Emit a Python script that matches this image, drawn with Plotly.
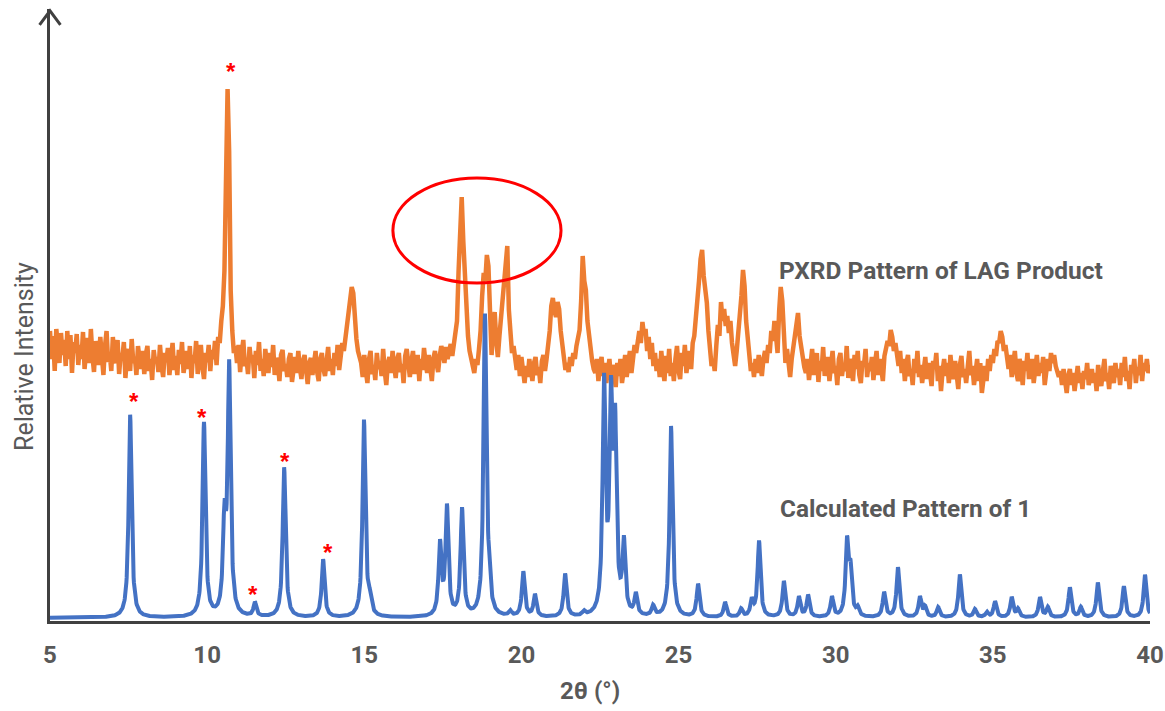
import numpy as np
import plotly.graph_objects as go

# ---------------- data ----------------
# Calculated pattern of 1: reflection positions (2theta, deg) and intensities (arb.)
calc_pos = [7.55, 9.90, 10.55, 10.70, 11.52, 12.45, 13.69, 14.99, 15.18, 17.41, 17.63, 18.11,
            18.84, 18.97, 19.64, 20.06, 20.43, 21.39, 21.99, 22.63, 22.85, 22.98, 23.26, 23.64,
            24.19, 24.76, 25.62, 26.48, 26.99, 27.33, 27.56, 28.35, 28.83, 29.12, 29.88, 30.36,
            30.47, 30.70, 31.54, 31.98, 32.68, 32.84, 33.26, 33.95, 34.43, 34.81, 35.07, 35.60,
            35.80, 36.50, 36.75, 37.45, 37.80, 38.34, 39.17, 39.84]
calc_int = [203, 194, 88, 247, 14, 150, 58, 197, 13, 71, 108, 107,
            300, 20, 5, 45, 22, 43, 4, 228, 201, 176, 70, 21,
            10, 191, 33, 15, 8, 16, 76, 36, 20, 22, 20, 73,
            43, 8, 25, 50, 20, 10, 10, 43, 8, 5, 16, 20,
            8, 20, 10, 30, 10, 35, 31, 43]
calc_base = 3
calc_hwhm = 0.055

# PXRD pattern of LAG product, read at 0.05 deg steps (segment start, values)
step = 0.05
lag_segments = [
    (5.00, [290, 262, 285, 250, 292, 270, 258, 288, 266, 281, 255, 290, 262, 286, 248, 279, 268, 287, 256, 276,
            262, 289, 252, 270, 283, 258, 292, 265, 249, 280, 268, 256, 284, 260, 246, 275, 290, 259, 268, 250,
            284, 262, 258, 281, 247, 268, 262, 279, 243, 266, 272, 250, 282, 258, 264, 246, 275, 262, 252, 270,
            247, 267, 275, 250, 262, 241, 271, 258, 264, 249, 276, 255, 244, 268, 259, 273, 246, 262, 278, 251,
            265, 246, 271, 257, 279, 248, 262, 270, 252, 275, 243, 266, 258, 280, 247, 264, 276, 254, 242, 268,
            259, 276, 250, 271, 262, 280, 256, 284, 278]),
    (10.45, [300, 315, 350, 440, 532, 470, 330, 290, 268, 275]),
    (10.95, [258, 276, 249, 268, 281, 255, 263, 247, 274, 259, 266,
             243, 270, 256, 279, 250, 262, 245, 272, 258, 248,
             268, 254, 276, 246, 263, 258, 240, 266, 271, 250, 257, 244, 262, 268, 239, 255, 264, 248, 270, 253,
             242, 260, 266, 251, 237, 258, 263, 246, 255, 270, 249, 240, 262, 268, 252, 245, 259, 274, 250, 262,
             246, 268, 255, 276, 251, 262, 278, 270, 283, 290]),
    (14.50, [300, 316, 334, 328, 300, 282, 270, 262]),
    (14.90, [258, 244, 266, 250, 238, 262, 270, 247, 256, 241, 268, 252,
             260, 245, 272, 250, 236, 258, 264, 248, 270, 255,
             243, 262, 268, 249, 257, 238, 265, 272, 251, 244, 260, 270, 247, 256, 266, 240, 262, 251, 273, 258,
             248, 266, 254, 240, 263, 270, 257, 249, 265, 275,
             268, 258, 274, 262, 270, 277, 265, 280, 286, 300]),
    (18.00, [350, 395, 424, 380, 345, 305, 285, 270, 262, 255, 248, 262, 256, 272, 290, 325, 348, 340, 366, 355,
             311, 266, 290, 309, 280, 264, 285, 304, 318, 330, 362, 375, 311, 285, 268, 275, 258, 251, 266, 245,
             264, 250, 238]),
    (20.15, [255, 244, 262, 250, 240, 258, 264, 246, 254, 238, 260, 266, 250, 262, 275]),
    (20.90, [290, 315, 323, 310, 304, 319, 312, 290, 275]),
    (21.35, [262, 251, 258, 249, 264, 255, 268, 262, 275, 285, 291]),
    (21.90, [320, 365, 340, 331, 300, 284, 272, 260, 252]),
    (22.35, [248, 262, 240, 255, 264, 245, 258, 238, 251, 262, 242, 256, 248, 234, 258, 245, 262, 238, 250, 266,
             244, 257, 270, 248, 262, 276, 268, 284]),
    (23.75, [290, 278, 299, 286, 292, 270, 284, 262, 278, 255, 268, 250]),
    (24.35, [262, 244, 270, 252, 240, 265, 248, 272, 245, 258, 240, 262, 275, 250, 242, 268, 255, 276, 248, 262,
             270, 252, 278, 285, 300]),
    (25.60, [325, 340, 362, 371, 345, 330, 318, 290, 268, 255, 262, 250]),
    (26.20, [275, 296, 285, 319, 300, 312, 295, 305, 288, 300, 278, 268, 255, 270, 285, 300]),
    (27.00, [325, 351, 335, 300, 280, 262]),
    (27.30, [250, 258, 244, 262, 248, 266, 254, 245, 262, 270, 258, 276, 268, 290]),
    (28.00, [280, 300, 285, 268, 310, 334, 320, 280, 258, 272, 252, 244, 262, 275, 290, 298, 308, 285, 275, 260,
             254, 248]),
    (29.10, [262, 241, 258, 272, 246, 255, 268, 239, 260, 250, 274, 245, 256, 264, 240, 258, 270, 248, 255, 236,
             262, 268, 245, 258, 250, 275, 243, 262, 255, 240, 266, 252, 270, 246, 238, 260, 256, 272, 244, 258,
             250, 264, 241, 258, 270, 246, 262, 252, 240, 265, 272, 280]),
    (31.70, [275, 291, 284, 270, 278, 262]),
    (32.00, [255, 270, 248, 262, 240, 258, 266, 245, 252, 236, 262, 248, 270, 244, 256, 238, 250, 264, 242, 258,
             248, 235, 260, 252, 268, 240, 255, 230, 250, 262, 245, 258, 238, 266, 250, 242, 260, 248, 232, 256,
             265, 244, 252, 238, 260, 270, 246, 255, 236, 250, 262, 240, 258, 228, 248, 255, 240, 262, 250, 266,
             258, 272, 265, 280]),
    (35.20, [278, 290, 284, 270, 276, 260]),
    (35.50, [252, 266, 244, 258, 270, 248, 240, 262, 255, 236, 260, 250, 268, 242, 256, 262, 238, 254, 266, 245,
             258, 248, 264, 236, 255, 262, 250, 268, 258, 266, 255, 248]),
    (37.10, [244, 250, 236, 252, 240, 228, 245, 252, 236, 248, 230, 244, 255, 238, 248, 232, 250, 242, 258, 236,
             245, 252, 238, 248, 230, 256, 242, 235, 250, 262, 240, 248, 232, 255, 246, 238, 258, 244]),
    (39.00, [252, 236, 258, 244, 264, 240, 250, 232, 256, 248, 262, 238, 254, 246, 266, 240, 258, 250, 262, 248, 256]),
]

x_ticks = [5, 10, 15, 20, 25, 30, 35, 40]

# starred reflections (x, y)
star_x = [10.76, 7.66, 9.84, 12.49, 11.45, 13.84]
star_y = [550, 220, 204, 160, 27, 69]

label_lag = "PXRD Pattern of LAG Product"
label_calc = "Calculated Pattern of 1"

# ---------------- build traces ----------------
lag_x, lag_y = [], []
for start, vals in lag_segments:
    for i, v in enumerate(vals):
        lag_x.append(round(start + i * step, 3))
        lag_y.append(v)

tt = np.arange(5.0, 40.0001, 0.01)
calc_y = np.full_like(tt, float(calc_base))
for p, h in zip(calc_pos, calc_int):
    calc_y += h / (1.0 + ((tt - p) / calc_hwhm) ** 2)

ORANGE = "#ED7D31"
BLUE = "#4472C4"
TXT = "#595959"
AX = "#404040"
FONT = "Roboto, Liberation Sans, Arial, sans-serif"

fig = go.Figure()
fig.add_trace(go.Scatter(x=lag_x, y=lag_y, mode="lines",
                         line=dict(color=ORANGE, width=4.5), showlegend=False, hoverinfo="skip"))
fig.add_trace(go.Scatter(x=tt, y=calc_y, mode="lines",
                         line=dict(color=BLUE, width=4), showlegend=False, hoverinfo="skip"))

fig.update_layout(
    width=1165, height=711,
    margin=dict(l=50, r=15, t=9, b=90, autoexpand=False),
    paper_bgcolor="white", plot_bgcolor="white",
    font=dict(family=FONT, color=TXT),
    xaxis=dict(range=[5, 40], tickvals=x_ticks, ticktext=[str(v) for v in x_ticks],
               showgrid=False, zeroline=False, showline=True, linecolor=AX, linewidth=3,
               ticks="", automargin=False, ticklabelstandoff=10,
               tickfont=dict(family=FONT, size=24, color=TXT, weight="bold")),
    yaxis=dict(range=[0, 612], showgrid=False, zeroline=False, showline=True, linecolor=AX,
               linewidth=3, showticklabels=False, ticks="", automargin=False),
)

# arrow head on y axis
fig.add_shape(type="path", xref="paper", yref="paper",
              path="M -0.0095 0.974 L 0 0.997 L 0.0095 0.974",
              line=dict(color=AX, width=3))

# red ellipse
fig.add_shape(type="circle", xref="x", yref="y", x0=15.91, x1=21.26, y0=338, y1=443,
              line=dict(color="#FF0000", width=3))

for sx, sy in zip(star_x, star_y):
    fig.add_annotation(x=sx, y=sy, text="*", showarrow=False, xanchor="center", yanchor="middle",
                       font=dict(family="Liberation Sans, Arial, sans-serif", size=24, color="#FF0000",
                                 weight="bold"))

fig.add_annotation(x=28.13, y=351, text=label_lag, showarrow=False, xanchor="left", yanchor="middle",
                   font=dict(family=FONT, size=24.5, color=TXT, weight="bold"))
fig.add_annotation(x=28.16, y=113, text=label_calc, showarrow=False, xanchor="left", yanchor="middle",
                   font=dict(family=FONT, size=24.3, color=TXT, weight="bold"))

fig.add_annotation(xref="paper", yref="paper", x=(590 - 50) / 1100, y=(621 - 691) / 612,
                   xanchor="center", yanchor="middle",
                   text="2θ (°)", showarrow=False,
                   font=dict(family=FONT, size=24, color=TXT, weight="bold"))
fig.add_annotation(xref="paper", yref="paper", x=(24 - 50) / 1100, y=(621 - 357) / 612,
                   xanchor="center", yanchor="middle",
                   text="Relative Intensity", showarrow=False, textangle=-90,
                   font=dict(family=FONT, size=25, color=TXT))

fig.write_html("out.html")
